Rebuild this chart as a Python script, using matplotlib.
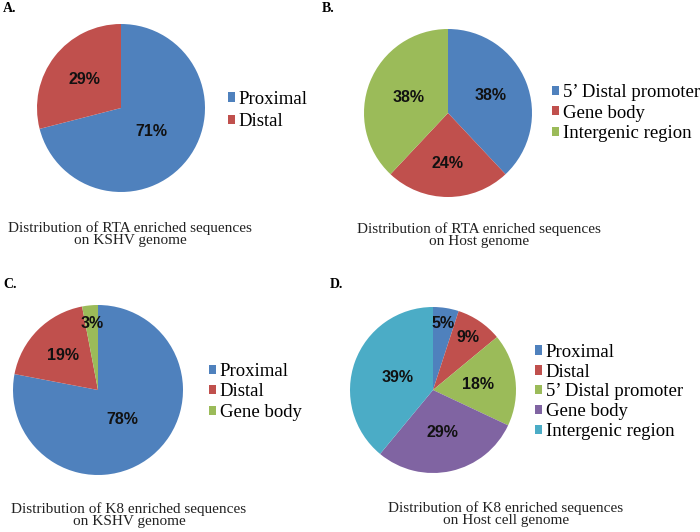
import numpy as np
import matplotlib.pyplot as plt

W, H = 700, 532
BLUE, RED, GREEN, PURPLE, CYAN = '#4F81BD', '#C0504D', '#9BBB59', '#8064A2', '#4BACC6'

# panel data
a_labels = ['Proximal', 'Distal']
a_values = [71, 29]
b_labels = ['5\u2019 Distal promoter', 'Gene body', 'Intergenic region']
b_values = [38, 24, 38]
c_labels = ['Proximal', 'Distal', 'Gene body']
c_values = [78, 19, 3]
d_labels = ['Proximal', 'Distal', '5\u2019 Distal promoter', 'Gene body', 'Intergenic region']
d_values = [5, 9, 18, 29, 39]

captions = ['Distribution of RTA enriched sequences\non KSHV genome',
            'Distribution of RTA enriched sequences\non Host genome',
            'Distribution of K8 enriched sequences\non KSHV genome',
            'Distribution of K8 enriched sequences\non Host cell genome']

panels = [
    dict(tag='A.', labels=a_labels, values=a_values, colors=[BLUE, RED],
         pie=(121, 108, 84), pct_r=[0.46, 0.55], leg=(228, 99, 23), cap=(130, 234), tagpos=(3, 8)),
    dict(tag='B.', labels=b_labels, values=b_values, colors=[BLUE, RED, GREEN],
         pie=(448, 113, 84), pct_r=[0.55, 0.6, 0.5], leg=(552, 92, 21), cap=(479, 235), tagpos=(322, 8)),
    dict(tag='C.', labels=c_labels, values=c_values, colors=[BLUE, RED, GREEN],
         pie=(98, 390, 85), pct_r=[0.45, 0.58, 0.79], leg=(209, 371, 21), cap=(129, 515), tagpos=(3, 284)),
    dict(tag='D.', labels=d_labels, values=d_values, colors=[BLUE, RED, GREEN, PURPLE, CYAN],
         pie=(433, 390, 83), pct_r=[0.81, 0.76, 0.55, 0.52, 0.45], leg=(535, 351, 20.5), cap=(506, 514), tagpos=(330, 284)),
]

fig = plt.figure(figsize=(W / 100, H / 100), dpi=100)
serif = 'Liberation Serif'
sans = 'Liberation Sans'
LEG_FS = 13.5
leg_px = LEG_FS * 100 / 72

for i, p in enumerate(panels):
    cx, cy, r = p['pie']
    ax = fig.add_axes([(cx - r) / W, 1 - (cy + r) / H, 2 * r / W, 2 * r / H])
    wedges, _ = ax.pie(p['values'], colors=p['colors'], startangle=90, counterclock=False,
                       radius=1, wedgeprops=dict(linewidth=0))
    for w, v, d in zip(wedges, p['values'], p['pct_r']):
        ang = np.deg2rad((w.theta1 + w.theta2) / 2)
        ax.text(d * np.cos(ang), d * np.sin(ang), f'{v}%', ha='center', va='center',
                fontsize=11.5, fontweight='bold', family=sans, color='#111111')
    ax.set_xlim(-1, 1)
    ax.set_ylim(-1, 1)
    ax.axis('off')

    lx, ly, sp = p['leg']
    n = len(p['labels'])
    midy = ly + (n - 1) * sp / 2
    ax.legend(wedges, p['labels'], loc='center left', bbox_to_anchor=(lx / W, 1 - midy / H),
              bbox_transform=fig.transFigure, frameon=False, borderpad=0, borderaxespad=0,
              handlelength=0.38, handleheight=0.38, handletextpad=0.2,
              labelspacing=(sp - 0.94 * leg_px) / leg_px,
              prop=dict(family=serif, size=LEG_FS))

    tx, ty = p['cap']
    fig.text(tx / W, 1 - ty / H, captions[i], ha='center', va='center', family=serif,
             fontsize=11, linespacing=0.85, color='#222222')
    gx, gy = p['tagpos']
    fig.text(gx / W, 1 - gy / H, p['tag'], ha='left', va='center', family=serif,
             fontsize=10, fontweight='bold')

fig.savefig('out.png', dpi=100)
